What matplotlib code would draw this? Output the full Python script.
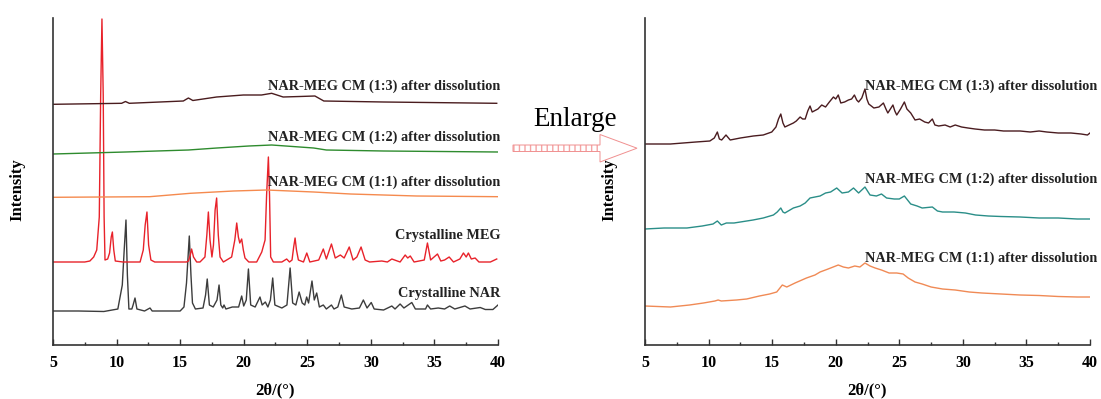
import matplotlib
matplotlib.use('Agg')
import matplotlib.pyplot as plt
from matplotlib.ticker import MultipleLocator
from matplotlib.patches import Polygon, Rectangle

plt.rcParams['font.family'] = ['Liberation Serif', 'DejaVu Serif']

# ---- left panel: stacked patterns (arbitrary intensity units) ----
nar_x = [5.0, 7.0, 9.0, 10.1, 10.45, 10.6, 10.74, 10.85, 10.97, 11.2, 11.3, 11.45, 11.6, 12.2, 12.63, 12.8,
         15.0, 15.3, 15.5, 15.72, 15.85, 15.97, 16.2, 16.8, 17.0, 17.13, 17.3, 17.6, 17.9, 18.06, 18.2, 18.35,
         18.45, 18.6, 19.1, 19.4, 19.6, 19.84, 20.0, 20.2, 20.37, 20.55, 20.9, 21.28, 21.45, 21.7, 21.9, 22.1,
         22.28, 22.45, 23.0, 23.4, 23.65, 23.85, 24.1, 24.36, 24.6, 24.8, 24.95, 25.1, 25.37, 25.55, 25.74,
         25.95, 26.26, 26.5, 26.9, 27.1, 27.4, 27.68, 27.9, 28.5, 29.1, 29.41, 29.7, 30.03, 30.26, 31.0, 31.65,
         31.9, 32.3, 32.6, 33.22, 33.5, 34.3, 34.45, 34.7, 35.3, 35.8, 36.2, 36.6, 37.4, 37.8, 38.6, 39.0,
         39.6, 40.0]
nar_y = [34, 34, 33.5, 36, 60, 95, 125, 70, 36, 36, 40, 47, 36, 34, 37, 34,
         34, 38, 62, 109, 70, 42, 36, 37, 50, 66, 40, 38, 45, 60, 40, 37,
         40, 36, 38, 38, 38, 49, 39, 45, 76, 40, 38, 48, 40, 43, 38, 45,
         67, 40, 37, 40, 77, 42, 40, 53, 42, 40, 48, 42, 64, 45, 52,
         38, 40, 36, 40, 36, 38, 50, 38, 36, 37, 45, 37, 42.5, 36, 35, 39,
         36, 41, 37, 42.5, 36, 36, 40, 36, 37, 36, 39, 36, 39, 36, 37.5, 35.5,
         35.5, 40]

meg_x = [5.0, 7.5, 7.9, 8.2, 8.44, 8.64, 8.75, 8.85, 8.95, 9.02, 9.09, 9.3, 9.45, 9.58, 9.67, 9.78, 9.9,
         10.5, 11.85, 12.1, 12.25, 12.39, 12.52, 12.7, 13.0, 15.5, 15.65, 15.8, 15.9, 16.05, 16.3, 16.56,
         16.95, 17.1, 17.22, 17.35, 17.5, 17.62, 17.75, 17.87, 18.0, 18.14, 18.4, 19.05, 19.3, 19.45, 19.58,
         19.69, 19.84, 19.97, 20.1, 20.4, 21.02, 21.42, 21.68, 21.8, 21.94, 22.03, 22.12, 22.33, 23.0, 23.38,
         23.6, 23.8, 23.93, 24.04, 24.15, 24.3, 24.7, 24.96, 25.2, 25.9, 26.26, 26.5, 26.9, 27.2, 27.6, 27.9,
         28.3, 28.6, 28.9, 29.23, 29.55, 29.9, 30.86, 31.3, 31.65, 32.3, 32.7, 32.9, 33.1, 33.4, 34.2, 34.45,
         34.7, 35.24, 35.5, 35.8, 36.16, 36.5, 37.0, 37.28, 37.5, 37.67, 37.9, 38.2, 38.5, 39.4, 39.9]
meg_y = [83, 83, 84, 88, 95, 128, 250, 326, 250, 128, 85, 86, 92, 108, 113, 95, 84,
         83, 83, 95, 120, 133, 100, 85, 83, 83, 84, 90, 96, 88, 83, 83,
         88, 110, 133, 105, 88, 100, 135, 147, 110, 88, 83, 88, 105, 122, 108,
         102, 106, 95, 87, 83, 83, 93, 105, 150, 188, 150, 88, 83, 83, 86,
         83, 85, 98, 107, 95, 85, 83, 92, 83, 85, 96, 86, 101, 87, 90, 87,
         98, 85, 88, 98, 85, 83, 84, 83, 86, 83, 90, 87, 89, 83, 85, 102,
         85, 91, 84, 85, 88, 83, 86, 92, 88, 92, 86, 87, 83, 83, 86]

cm11_x = [5.0, 12.6, 15.8, 19.2, 21.8, 25.5, 28.4, 33.6, 40.0]
cm11_y = [147.7, 148.3, 151.7, 154, 155, 153, 151, 149, 148.3]

cm12_x = [5.0, 10.7, 15.65, 17.9, 20.4, 22.2, 25.5, 26.5, 31.0, 40.0]
cm12_y = [191, 193, 195, 197, 199, 200, 197, 195, 194, 193]

cm13_x = [5.0, 10.4, 10.7, 11.0, 15.25, 15.65, 16.0, 17.87, 19.97, 21.4, 22.2, 23.1, 24.4, 25.6, 26.3,
          31.0, 39.9]
cm13_y = [240.7, 241.7, 243.5, 241.7, 244, 247, 244.5, 248, 250, 250, 251.7, 248, 248.5, 249, 244,
          243, 241.7]

# ---- right panel: enlarged dissolution samples ----
r13_x = [5.0, 7.0, 9.0, 10.1, 10.45, 10.69, 10.85, 11.03, 11.37, 11.7, 12.5, 13.52, 14.3, 14.97, 15.3, 15.5,
         15.68, 15.85, 16.0, 16.67, 16.9, 17.2, 17.4, 17.6, 17.8, 17.98, 18.15, 18.3, 18.6, 18.9, 19.2, 19.5,
         19.82, 20.0, 20.2, 20.4, 20.7, 21.0, 21.25, 21.47, 21.65, 21.8, 22.05, 22.3, 22.45, 22.6, 23.0, 23.4,
         23.75, 23.95, 24.1, 24.5, 24.65, 24.8, 25.1, 25.4, 25.6, 25.9, 26.24, 26.6, 27.0, 27.3, 27.6, 27.8,
         28.1, 28.6, 29.0, 29.4, 29.9, 30.4, 30.96, 31.7, 32.5, 33.2, 34.5, 35.3, 36.0, 36.6, 37.5, 38.5,
         39.3, 39.8, 40.0]
r13_y = [201, 201, 203, 204, 207, 213, 206, 205, 210, 205, 207, 209, 210, 213, 218, 226,
         231, 222, 218, 222, 224, 228, 226, 226, 234, 239, 233, 234, 236, 240, 238, 243,
         248, 246, 250, 242, 243, 245, 246, 250, 245, 243, 247, 256, 246, 241, 237, 238,
         242, 236, 232, 240, 234, 230, 236, 243, 236, 232, 225, 226, 223, 222, 226, 220,
         219, 220, 218, 220, 218, 217, 216, 215, 215, 214, 214, 213, 214, 213, 212, 212,
         211, 210, 212]

r12_x = [5.0, 6.5, 8.3, 9.5, 10.35, 10.69, 11.0, 11.4, 12.0, 13.5, 14.3, 15.1, 15.4, 15.68, 15.85, 16.0,
         16.67, 17.2, 17.6, 17.98, 18.37, 18.77, 19.2, 19.6, 20.08, 20.5, 21.0, 21.4, 21.8, 22.3, 22.7, 23.2,
         23.6, 24.0, 24.6, 25.0, 25.4, 25.9, 26.4, 26.8, 27.6, 28.0, 28.4, 29.3, 30.2, 31.0, 32.0, 33.0,
         34.5, 36.0, 37.5, 39.0, 40.0]
r12_y = [116, 117, 117, 119, 121, 124, 120, 122, 122, 125, 127, 130, 133, 137, 133, 132,
         137, 139, 142, 147, 148, 149, 152, 153, 157, 152, 153, 157, 152, 158, 150, 149,
         151, 147, 146, 146, 149, 141, 139, 137, 138, 134, 133, 133, 132, 130, 129, 128.5,
         128, 127, 127, 126, 126]

r11_x = [5.0, 7.0, 8.5, 9.6, 10.5, 10.75, 11.0, 12.2, 13.0, 14.0, 14.8, 15.36, 15.8, 16.15, 16.8, 17.7,
         18.37, 18.77, 19.4, 20.2, 20.6, 21.0, 21.5, 21.9, 22.3, 22.7, 23.1, 23.6, 24.2, 24.8, 25.3, 25.7,
         26.24, 26.8, 27.5, 28.4, 29.4, 30.5, 31.5, 33.0, 34.5, 36.0, 37.5, 39.0, 40.0]
r11_y = [39, 38, 40, 42, 44, 45, 44, 45, 46, 49, 51, 53, 60, 58, 62, 67,
         70, 73, 76, 80, 78, 77, 79, 78, 82, 79, 77, 75, 72, 72, 71, 67,
         63, 61, 58, 56, 55, 53, 52, 51, 50, 49.5, 48.5, 48, 48]

label_13 = 'NAR-MEG CM (1:3) after dissolution'
label_12 = 'NAR-MEG CM (1:2) after dissolution'
label_11 = 'NAR-MEG CM (1:1) after dissolution'

fig = plt.figure(figsize=(11.01, 3.99), dpi=100)
ax1 = fig.add_axes([53/1101, 54/399, 445/1101, 327/399])
ax2 = fig.add_axes([645/1101, 54/399, 445/1101, 327/399])

lw = 1.0
ax1.plot(nar_x, nar_y, color='#3c3c3c', lw=lw)
ax1.plot(meg_x, meg_y, color='#e8222a', lw=lw)
ax1.plot(cm11_x, cm11_y, color='#f58a4e', lw=lw)
ax1.plot(cm12_x, cm12_y, color='#2e8b2e', lw=lw)
ax1.plot(cm13_x, cm13_y, color='#4a1c1e', lw=lw)

ax2.plot(r13_x, r13_y, color='#4a1c20', lw=lw)
ax2.plot(r12_x, r12_y, color='#2a8e88', lw=lw)
ax2.plot(r11_x, r11_y, color='#f08a55', lw=lw)

tkw = dict(fontsize=10.3, fontweight='bold', color='#222222')
ax1.text(40.2, 259, label_13, ha='right', va='center', **tkw)
ax1.text(40.2, 208, label_12, ha='right', va='center', **tkw)
ax1.text(40.2, 163, label_11, ha='right', va='center', **tkw)
ax1.text(40.2, 109, 'Crystalline MEG', ha='right', va='center', **tkw)
ax1.text(40.2, 52, 'Crystalline NAR', ha='right', va='center', **tkw)

ax2.text(22.3, 259, label_13, ha='left', va='center', **tkw)
ax2.text(22.3, 166, label_12, ha='left', va='center', **tkw)
ax2.text(22.3, 87, label_11, ha='left', va='center', **tkw)

for ax in (ax1, ax2):
    ax.set_xlim(5, 40)
    ax.set_ylim(0, 327)
    ax.spines['top'].set_visible(False)
    ax.spines['right'].set_visible(False)
    for s in ('left', 'bottom'):
        ax.spines[s].set_linewidth(1.2)
        ax.spines[s].set_color('#333333')
    ax.set_yticks([])
    ax.xaxis.set_major_locator(MultipleLocator(5))
    ax.xaxis.set_minor_locator(MultipleLocator(2.5))
    ax.tick_params(axis='x', which='major', direction='in', length=4, width=1, pad=7,
                   labelsize=11.5, color='#333333')
    ax.tick_params(axis='x', which='minor', direction='in', length=2.5, width=1, color='#333333')
    for lab in ax.get_xticklabels():
        lab.set_fontweight('bold')
    ax.text(0.5, -0.138, '2\u03b8/(\u00b0)', transform=ax.transAxes, ha='center', va='center',
            fontsize=12, fontweight='bold')
    ax.text(-0.079, 0.475, 'Intensity', transform=ax.transAxes, rotation=90, ha='center',
            va='center', fontsize=12, fontweight='bold')

# "Enlarge" arrow between the panels, drawn in figure inches (y up)
tr = fig.dpi_scale_trans
body = Rectangle((5.13, 2.475), 0.87, 0.065, transform=tr, facecolor='none',
                 edgecolor='#f4a4a4', lw=0, hatch='|||')
outline = Polygon([(5.13, 2.475), (6.0, 2.475), (6.0, 2.37), (6.37, 2.508),
                   (6.0, 2.645), (6.0, 2.54), (5.13, 2.54)], closed=True, transform=tr,
                  facecolor='none', edgecolor='#f09090', lw=0.7)
fig.patches.extend([body, outline])
fig.text(575/1101, (399-120)/399, 'Enlarge', ha='center', va='center', fontsize=19.5)

fig.savefig('out.png', dpi=100, facecolor='white')
